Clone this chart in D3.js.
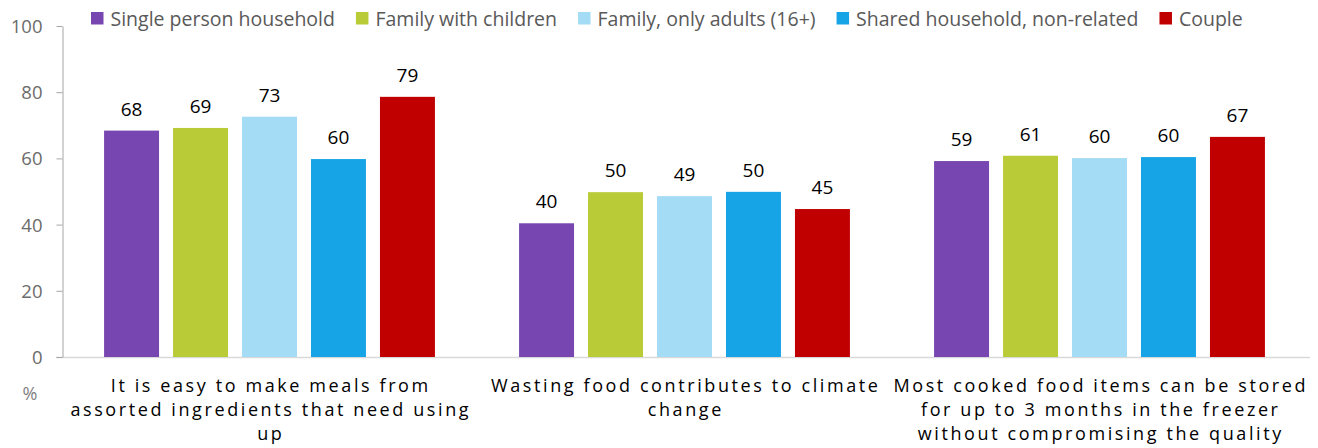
<!DOCTYPE html>
<html><head><meta charset="utf-8">
<script src="https://cdn.jsdelivr.net/npm/d3@7"></script>
<style>
body{margin:0;background:#fff;}
svg{display:block;font-family:"Open Sans","Noto Sans",sans-serif;}
</style></head><body>
<svg id="chart" width="1318" height="448"></svg>
<script>
const categories = ["c1","c2","c3"];
const categoryLines = [
  ["It is easy to make meals from","assorted ingredients that need using","up"],
  ["Wasting food contributes to climate","change"],
  ["Most cooked food items can be stored","for up to 3 months in the freezer","without compromising the quality"]
];
const seriesNames = ["Single person household","Family with children","Family, only adults (16+)","Shared household, non-related","Couple"];
const seriesColors = ["#7846B0","#B9CB36","#A5DCF5","#17A4E7","#C00000"];
const singlePerson = [68.4, 40.4, 59.2];
const familyChildren = [69.2, 49.8, 60.8];
const familyAdults = [72.6, 48.6, 60.1];
const shared = [59.8, 49.9, 60.4];
const couple = [78.6, 44.7, 66.5];
const yTicks = [0,20,40,60,80,100];

const seriesValues = [singlePerson, familyChildren, familyAdults, shared, couple];

const svg = d3.select("#chart");
const mLeft = 62, mRight = 1307, mTop = 26, mBottom = 357;

const x0 = d3.scaleBand().domain(categories).range([mLeft, mRight]).padding(0);
const x1 = d3.scaleBand().domain(seriesNames).range([0, x0.bandwidth()])
  .paddingInner(0.203).paddingOuter(0.61);
const y = d3.scaleLinear().domain([0,100]).range([mBottom, mTop]);

// baseline
svg.append("line").attr("x1", mLeft-6).attr("x2", 1310).attr("y1", y(0)+0.5).attr("y2", y(0)+0.5)
  .attr("stroke","#D9D9D9").attr("stroke-width",1.5);

// y axis
const yAxis = d3.axisLeft(y).tickValues(yTicks).tickSize(6).tickPadding(14).tickSizeOuter(0);
const ga = svg.append("g").attr("transform",`translate(${mLeft+0.5},0)`).call(yAxis);
ga.select(".domain").attr("stroke","#A6A6A6");
ga.selectAll(".tick line").attr("stroke","#A6A6A6");
ga.selectAll(".tick text").attr("fill","#6B6B6B").style("font-size","18.5px")
  .style("font-family","'Open Sans',sans-serif").attr("dy","0.35em");

// bars
const groups = svg.append("g").selectAll("g").data(categories).join("g")
  .attr("transform", d => `translate(${x0(d)},0)`);
groups.each(function(cat, ci){
  const g = d3.select(this);
  seriesNames.forEach((s, si) => {
    const v = seriesValues[si][ci];
    g.append("rect").attr("x", x1(s)).attr("width", x1.bandwidth())
      .attr("y", y(v)).attr("height", y(0) - y(v)).attr("fill", seriesColors[si]);
    g.append("text").attr("x", x1(s) + x1.bandwidth()/2).attr("y", y(v) - 15)
      .attr("text-anchor","middle").attr("fill","#000").style("font-size","19px")
      .text(Math.round(v));
  });
});

// category labels
categories.forEach((c, ci) => {
  const cx = x0(c) + x0.bandwidth()/2 + 1.3;
  const t = svg.append("text").attr("text-anchor","middle").attr("fill","#000")
    .style("font-size","18px").style("letter-spacing","2.6px");
  categoryLines[ci].forEach((line, li) => {
    t.append("tspan").attr("x", cx).attr("y", 392 + li*24).text(line);
  });
});

// % label
svg.append("text").attr("x", 30).attr("y", 400).attr("text-anchor","middle")
  .attr("fill","#7F7F7F").style("font-size","18px").text("%");

// legend
const lg = svg.append("g").attr("transform","translate(91,19)");
let lx = 0;
seriesNames.forEach((s, si) => {
  lg.append("rect").attr("x", lx).attr("y", -7).attr("width", 12.5).attr("height", 12.5).attr("fill", seriesColors[si]);
  const t = lg.append("text").attr("x", lx + 19.5).attr("y", 0).attr("dy","0.35em")
    .attr("fill","#595959").style("font-size","19.5px").text(s);
  lx += 19.5 + t.node().getComputedTextLength() + 21;
});
</script>
</body></html>
